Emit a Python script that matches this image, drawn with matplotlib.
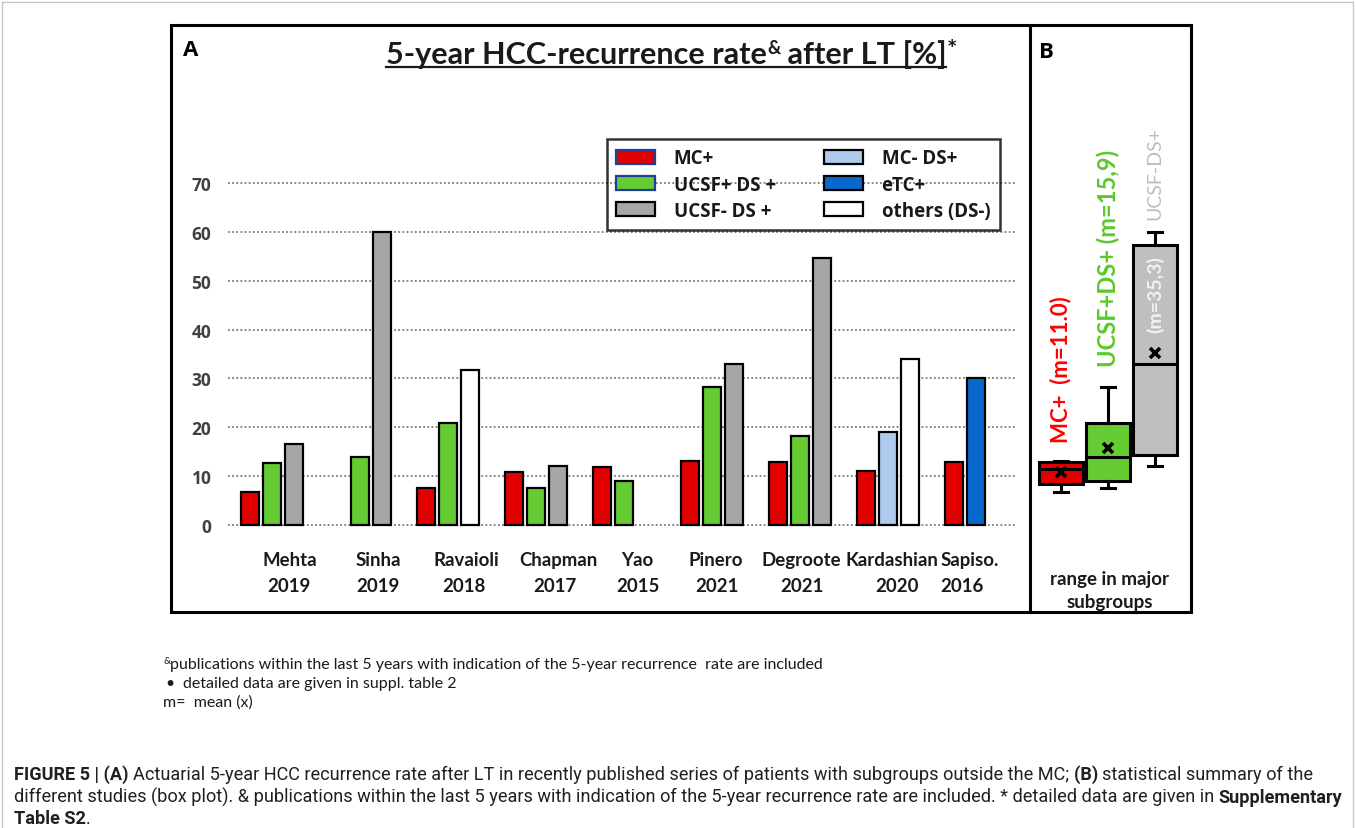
import numpy as np
import matplotlib
matplotlib.use('Agg')
import matplotlib.pyplot as plt
from matplotlib.patches import Rectangle, Patch
from matplotlib.lines import Line2D
from matplotlib import font_manager

# ---------------- data ----------------
studies = ['Mehta', 'Sinha', 'Ravaioli', 'Chapman', 'Yao', 'Pinero', 'Degroote', 'Kardashian', 'Sapiso.']
years = ['2019', '2019', '2018', '2017', '2015', '2021', '2021', '2020', '2016']
nan = np.nan
mc_pos = [6.8, nan, 7.6, 10.8, 11.9, 13.1, 12.9, 11.1, 12.9]
ucsf_pos_ds = [12.7, 14.0, 20.8, 7.6, 9.1, 28.3, 18.2, nan, nan]
ucsf_neg_ds = [16.6, 60.0, nan, 12.1, nan, 32.9, 54.7, nan, nan]
mc_neg_ds = [nan, nan, nan, nan, nan, nan, nan, 19.0, nan]
etc_pos = [nan, nan, nan, nan, nan, nan, nan, nan, 30.0]
others_ds_neg = [nan, nan, 31.7, nan, nan, nan, nan, 34.0, nan]
yticks = [0, 10, 20, 30, 40, 50, 60, 70]
legend_labels = ['MC+', 'UCSF+ DS +', 'UCSF- DS +', 'MC- DS+', 'eTC+', 'others (DS-)']
box_labels = ['MC+  (m=11.0)', 'UCSF+DS+ (m=15,9)', 'UCSF-DS+']
gray_mean_label = '(m=35,3)'

# ---------------- layout helpers ----------------
W, H = 1356, 829
fig = plt.figure(figsize=(W / 100, H / 100), dpi=100)
fig.patch.set_facecolor('white')


def fx(x):
    return x / W


def fy(y):
    return 1 - y / H


avail = {f.name for f in font_manager.fontManager.ttflist}
NARROW = 'Liberation Sans Narrow' if 'Liberation Sans Narrow' in avail else 'Roboto'
CAL = 'Lato'
SEG = 'Open Sans'

RED = '#e00000'
GREEN = '#66cc33'
GRAY = '#a6a6a6'
LBLUE = '#aecbee'
BLUE = '#0868cc'

# vertical scale shared by both panels
y0px, y70px = 526, 184
ppu = (y0px - y70px) / 70.0
ylo, yhi = -0.6, 70.6
ax_bottom = fy(y0px - ylo * ppu)
ax_height = (yhi - ylo) * ppu / H

# ---------------- panel A ----------------
axA = fig.add_axes([fx(228), ax_bottom, (1017 - 228) / W, ax_height])
x = np.arange(len(studies))
slot = 0.25
bw = 0.205
series = [
    (legend_labels[0], mc_pos, RED, '#1f3f99', -1),
    (legend_labels[1], ucsf_pos_ds, GREEN, '#1f3f99', 0),
    (legend_labels[2], ucsf_neg_ds, GRAY, 'black', 1),
    (legend_labels[3], mc_neg_ds, LBLUE, 'black', 0),
    (legend_labels[4], etc_pos, BLUE, 'black', 0),
    (legend_labels[5], others_ds_neg, 'white', 'black', 1),
]
handles = []
for lab, vals, col, lec, s in series:
    v = np.array(vals, dtype=float)
    m = ~np.isnan(v)
    axA.bar(x[m] + s * slot, v[m], width=bw, color=col, edgecolor='black',
            linewidth=1.6, zorder=3)
    handles.append(Patch(facecolor=col, edgecolor=lec, linewidth=1.6, label=lab))

axA.set_xlim(-0.5, 8.47)
axA.set_ylim(ylo, yhi)
axA.set_yticks(yticks)
axA.set_yticklabels([str(t) for t in yticks], fontfamily=SEG, fontweight='bold',
                    fontsize=12.5, color='#404040')
axA.tick_params(axis='y', length=0, pad=12)
axA.set_xticks([])
for sp in axA.spines.values():
    sp.set_visible(False)
axA.grid(axis='y', linestyle=(0, (1, 1.3)), color='#7a7a7a', linewidth=1.3, zorder=0)
axA.set_axisbelow(True)
axA.patch.set_alpha(0)

# category labels (two lines)
name_shift = [18, 18, 18, 22, 13, 4, 1, 4, -6]
year_shift = [17, 18, 16, 19, 14, 5, 2, 9, -14]
for i, (nm, yr) in enumerate(zip(studies, years)):
    xc = 272 + 88 * i
    fig.text(fx(xc + name_shift[i]), fy(561), nm, ha='center', va='center',
             fontfamily=CAL, fontweight='bold', fontsize=13.4, color='#1a1a1a')
    fig.text(fx(xc + year_shift[i]), fy(586), yr, ha='center', va='center',
             fontfamily=CAL, fontweight='bold', fontsize=13.4, color='#1a1a1a')

leg = axA.legend(handles=handles, ncol=2, loc='upper left',
                 bbox_to_anchor=(fx(607), fy(140)), bbox_transform=fig.transFigure,
                 prop={'family': SEG, 'weight': 'bold', 'size': 13.5},
                 frameon=True, fancybox=False, edgecolor='black', facecolor='none',
                 framealpha=None, borderpad=0.5, handlelength=2.05, handleheight=0.8,
                 handletextpad=1.0, labelspacing=0.33, columnspacing=2.6,
                 borderaxespad=0)
leg.get_frame().set_linewidth(1.8)
for t in leg.get_texts():
    t.set_color('#1a1a1a')

# ---------------- panel B ----------------
axB = fig.add_axes([fx(1035), ax_bottom, (1185 - 1035) / W, ax_height])
groups = [mc_pos, ucsf_pos_ds, ucsf_neg_ds]
box_cols = [RED, GREEN, '#bfbfbf']
stats = []
for g in groups:
    v = np.array(g, dtype=float)
    v = v[~np.isnan(v)]
    q1, med, q3 = np.percentile(v, [25, 50, 75], method='weibull')
    stats.append(dict(med=med, q1=q1, q3=q3, whislo=v.min(), whishi=v.max(),
                      mean=v.mean(), fliers=[]))
bp = axB.bxp(stats, positions=[1, 2, 3], widths=0.915, patch_artist=True,
             showmeans=True, showfliers=False,
             meanprops=dict(marker='x', markeredgecolor='black', markersize=6.5,
                            markeredgewidth=2.6),
             medianprops=dict(color='black', linewidth=2.2),
             boxprops=dict(edgecolor='black', linewidth=2.2),
             whiskerprops=dict(color='black', linewidth=2.2),
             capprops=dict(color='black', linewidth=2.2), capwidths=0.3)
for patch, c in zip(bp['boxes'], box_cols):
    patch.set_facecolor(c)
axB.set_xlim(1 - 26 / 47, 3 + 30 / 47)
axB.set_ylim(ylo, yhi)
axB.axis('off')

lab_cols = ['#ff0000', '#5cc82a', '#bdbdbd']
lab_w = ['bold', 'bold', 'normal']
lab_sz = [16, 17, 14]
lab_off = [14, 15, 9]
for i, (st, lab) in enumerate(zip(stats, box_labels)):
    axB.annotate(lab, xy=(i + 1, st['whishi']), xytext=(0, lab_off[i]),
                 textcoords='offset points', rotation=90, ha='center', va='bottom',
                 color=lab_cols[i], fontweight=lab_w[i], fontfamily=CAL,
                 fontsize=lab_sz[i])
axB.annotate(gray_mean_label, xy=(3, stats[2]['mean']), xytext=(0, 15),
             textcoords='offset points', rotation=90, ha='center', va='bottom',
             color='#f2f2f2', fontweight='bold', fontfamily=CAL, fontsize=14)

fig.text(fx(1110), fy(580), 'range in major', ha='center', va='center',
         fontfamily=CAL, fontweight='bold', fontsize=13.5, color='#1a1a1a')
fig.text(fx(1110), fy(603), 'subgroups', ha='center', va='center',
         fontfamily=CAL, fontweight='bold', fontsize=13.5, color='#1a1a1a')

# ---------------- frames & panel letters ----------------
fig.add_artist(Rectangle((fx(171), fy(613)), (1191 - 171) / W, (613 - 26) / H,
                         transform=fig.transFigure, fill=False, lw=2.2, ec='black'))
fig.add_artist(Line2D([fx(1030), fx(1030)], [fy(26), fy(613)],
                      transform=fig.transFigure, lw=2.2, color='black'))
fig.text(fx(183), fy(50), 'A', ha='left', va='center', fontfamily=SEG,
         fontweight='bold', fontsize=16, color='black')
fig.text(fx(1039), fy(52), 'B', ha='left', va='center', fontfamily=SEG,
         fontweight='bold', fontsize=16, color='black')

# outer light border
for xs, ys in [([2, 1353], [3, 3]), ([2, 2], [3, 829]), ([1353, 1353], [3, 829])]:
    fig.add_artist(Line2D([fx(v) for v in xs], [fy(v) for v in ys],
                          transform=fig.transFigure, lw=1.0, color='#c8c8c8'))

# ---------------- run-based text helpers ----------------
renderer = fig.canvas.get_renderer()


def text_w(s, kw):
    t = fig.text(0, 0, s, **kw)
    w = t.get_window_extent(renderer).width
    t.remove()
    return w


def run_w(s, kw):
    return text_w(s + 'x', kw) - text_w('x', kw)


def draw_runs(x0, base, parts):
    xx = x0
    ends = []
    for s, kw, dy in parts:
        fig.text(fx(xx), fy(base - dy), s, ha='left', va='baseline', **kw)
        xx += run_w(s, kw)
        ends.append(xx)
    return ends


def total_w(parts):
    return sum(run_w(s, kw) for s, kw, dy in parts)


# title
def title_parts(S):
    b = dict(fontfamily=CAL, fontweight='bold', fontsize=S, color='#1a1a1a')
    sup = dict(fontfamily=CAL, fontweight='bold', fontsize=S * 0.6, color='#1a1a1a')
    r = S * 100 / 72 * 0.33
    return [('5-year HCC-recurrence rate', b, 0), ('&', sup, r),
            (' after LT [%]', b, 0), ('*', dict(b, fontsize=S * 0.8), r * 0.55)]


S = 20.0
for _ in range(2):
    p = title_parts(S)
    S = S * 560 / total_w(p[:3])
p = title_parts(S)
ends = draw_runs(386, 64, p)
fig.add_artist(Line2D([fx(386), fx(ends[2] - 1)], [fy(67.5), fy(67.5)],
                      transform=fig.transFigure, lw=1.6, color='#1a1a1a'))


# footnotes
def foot_kw(F):
    return (dict(fontfamily=CAL, fontsize=F, color='#1a1a1a'),
            dict(fontfamily=CAL, fontsize=F * 0.62, color='#1a1a1a'))


F = 11.0
for _ in range(2):
    fn, fsup = foot_kw(F)
    F = F * (826 - 170) / run_w('publications within the last 5 years with indication of the 5-year recurrence  rate are included', fn)
fn, fsup = foot_kw(F)
draw_runs(163, 669, [('&', fsup, 5)])
draw_runs(170, 669, [('publications within the last 5 years with indication of the 5-year recurrence  rate are included', fn, 0)])
draw_runs(165, 688, [('\u2022', fn, 0)])
draw_runs(183, 688, [('detailed data are given in suppl. table 2', fn, 0)])
draw_runs(163, 707, [('m=  mean (x)', fn, 0)])


# caption
def cap_parts(lines, C):
    n = dict(fontfamily=NARROW, fontsize=C, color='#231f20')
    bd = dict(fontfamily=NARROW, fontsize=C, color='#231f20', fontweight='bold')
    return [[(s, bd if isb else n, 0) for s, isb in ln] for ln in lines]


cap_lines = [
    [('FIGURE 5 | (A) ', True),
     ('Actuarial 5-year HCC recurrence rate after LT in recently published series of patients with subgroups outside the MC; ', False),
     ('(B) ', True), ('statistical summary of the', False)],
    [('different studies (box plot). & publications within the last 5 years with indication of the 5-year recurrence rate are included. * detailed data are given in ', False),
     ('Supplementary', True)],
    [('Table S2', True), ('.', False)],
]
C = 12.0
for _ in range(2):
    cp = cap_parts(cap_lines, C)
    C = C * (1321 - 14) / total_w(cp[0])
cp = cap_parts(cap_lines, C)
for ln, base in zip(cp, [780, 803, 824]):
    draw_runs(14, base, ln)

fig.savefig('out.png', dpi=100, facecolor='white')
